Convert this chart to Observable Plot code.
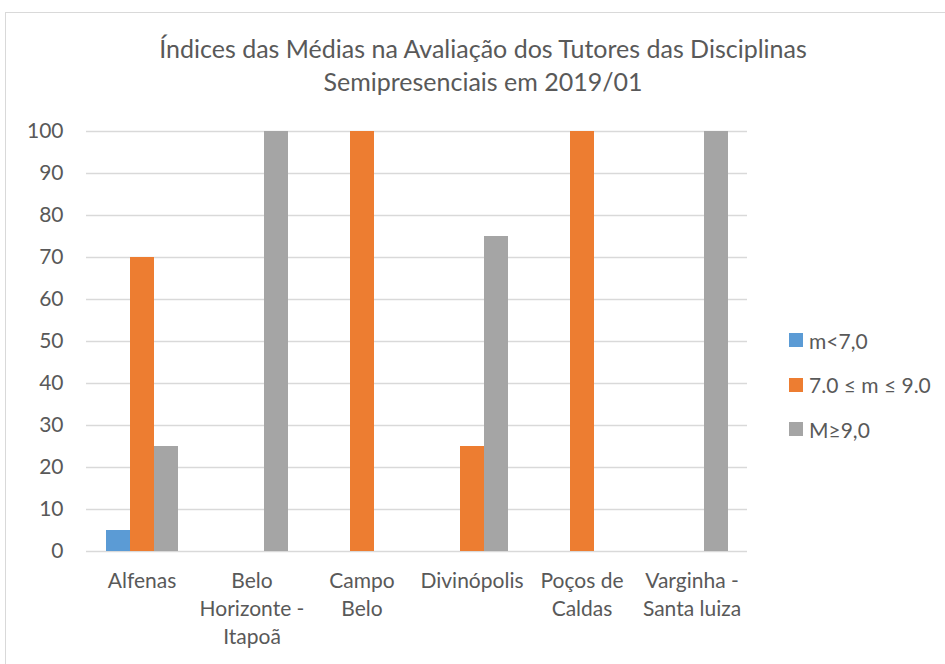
<!DOCTYPE html>
<html>
<head>
<meta charset="utf-8">
<script src="https://cdn.jsdelivr.net/npm/d3@7"></script>
<script src="https://cdn.jsdelivr.net/npm/@observablehq/plot@0.6"></script>
<style>
  body { margin: 0; background: #fff; font-family: Lato, "Open Sans", sans-serif; }
  #wrap { position: relative; width: 945px; height: 664px; overflow: hidden; background: #fff; }
  #frame { position: absolute; left: 5px; top: 12px; width: 1000px; height: 700px; border: 1px solid #d9d9d9; }
  #title { position: absolute; left: 0; width: 966px; top: 32px; text-align: center; font-size: 25px; line-height: 33px; color: #595959; }
  .layer { position: absolute; left: 0; top: 0; }
  #legend { position: absolute; left: 789px; top: 318px; color: #595959; font-size: 21px; }
  .item { display: flex; align-items: center; height: 44.5px; }
  .sw { width: 14px; height: 14px; margin-right: 6px; }
</style>
</head>
<body>
<div id="wrap">
  <div id="frame"></div>
  <div id="title">Índices das Médias na Avaliação dos Tutores das Disciplinas<br>Semipresenciais em 2019/01</div>
  <div id="grid" class="layer"></div>
  <div id="chart" class="layer"></div>
  <div id="legend"></div>
</div>
<script>
const categories = ["Alfenas", "Belo Horizonte - Itapoã", "Campo Belo", "Divinópolis", "Poços de Caldas", "Varginha - Santa luiza"];
const categoryLabels = ["Alfenas", "Belo\nHorizonte -\nItapoã", "Campo\nBelo", "Divinópolis", "Poços de\nCaldas", "Varginha -\nSanta luiza"];
const series = ["m<7,0", "7.0 ≤ m ≤ 9.0", "M≥9,0"];
const below7 = [5, 0, 0, 0, 0, 0];
const between7and9 = [70, 0, 100, 25, 100, 0];
const above9 = [25, 100, 0, 75, 0, 100];
const colors = ["#5b9bd5", "#ed7d31", "#a5a5a5"];
const yTicks = [0, 10, 20, 30, 40, 50, 60, 70, 80, 90, 100];

const seriesValues = [below7, between7and9, above9];
const rows = categories.flatMap((c, i) => series.map((s, j) => ({category: c, series: s, value: seriesValues[j][i]})));
const labelOf = new Map(categories.map((c, i) => [c, categoryLabels[i]]));

const common = {
  width: 945,
  height: 664,
  marginLeft: 86,
  marginRight: 198,
  marginTop: 131,
  marginBottom: 113,
  style: {fontFamily: "Lato, 'Open Sans', sans-serif", fontSize: "21px", color: "#595959", background: "transparent"},
  y: {domain: [0, 100], axis: null}
};

// grid + y axis layer (full width)
const gridPlot = Plot.plot({
  ...common,
  marks: [
    Plot.ruleY(yTicks, {stroke: "#d9d9d9", strokeWidth: 1.3}),
    Plot.axisY(yTicks, {tickSize: 0, tickPadding: 23, fontSize: 21, label: null})
  ]
});
document.getElementById("grid").appendChild(gridPlot);

// bars + category labels layer (faceted by category)
const barPlot = Plot.plot({
  ...common,
  fx: {domain: categories, paddingInner: 1/3, paddingOuter: 1/6, axis: null, label: null},
  x: {domain: series, padding: 0, axis: null},
  color: {domain: series, range: colors},
  marks: [
    Plot.barY(rows, {fx: "category", x: "series", y: "value", fill: "series"}),
    Plot.text(categories, {fx: d => d, text: d => labelOf.get(d), frameAnchor: "bottom", lineAnchor: "top", dy: 16, lineHeight: 1.35, fontSize: 21, fill: "#595959"})
  ]
});
document.getElementById("chart").appendChild(barPlot);

const legend = document.getElementById("legend");
series.forEach((s, i) => {
  const item = document.createElement("div");
  item.className = "item";
  const sw = document.createElement("div");
  sw.className = "sw";
  sw.style.background = colors[i];
  const t = document.createElement("span");
  t.textContent = s;
  item.appendChild(sw);
  item.appendChild(t);
  legend.appendChild(item);
});
</script>
</body>
</html>
